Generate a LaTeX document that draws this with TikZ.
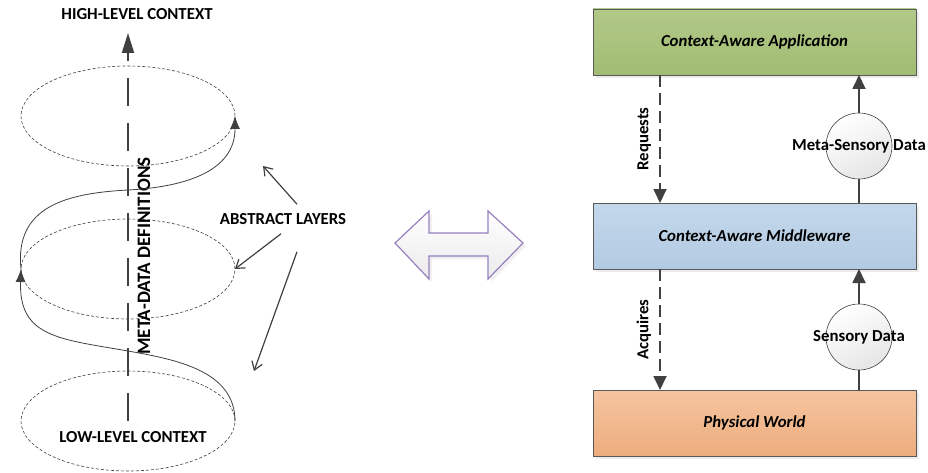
\documentclass[tikz,border=0pt]{standalone}
\usepackage{fontspec}
\setmainfont{Carlito}
\usetikzlibrary{arrows.meta,shapes.geometric,shadows,positioning}

\definecolor{linegray}{RGB}{64,64,64}
\definecolor{appgreenA}{RGB}{178,201,136}
\definecolor{appgreenB}{RGB}{161,188,115}
\definecolor{mwblueA}{RGB}{196,216,235}
\definecolor{mwblueB}{RGB}{178,202,226}
\definecolor{physA}{RGB}{245,196,160}
\definecolor{physB}{RGB}{237,173,125}
\definecolor{arrowpurple}{RGB}{150,128,190}

\tikzset{
  txt/.style={font=\fontsize{16.8}{20}\selectfont\bfseries, text=black},
  layer/.style={ellipse, draw=linegray, line width=0.6pt, dash pattern=on 3pt off 2pt,
    minimum width=214pt, minimum height=100pt, inner sep=0pt, outer sep=0pt},
  spiral/.style={draw=linegray, line width=0.8pt, -{Latex[length=13pt,width=10pt]}},
  pointer/.style={draw=linegray, line width=1.2pt, -{Straight Barb[length=8pt,width=11pt]}},
  layerbox/.style={draw=black!65, line width=0.9pt, minimum width=323pt, minimum height=66pt,
    inner sep=0pt, outer sep=0pt, font=\fontsize{16.8}{20}\selectfont\bfseries\itshape,
    drop shadow={opacity=0.15, shadow xshift=3pt, shadow yshift=-3pt}},
  datacircle/.style={circle, draw=linegray, line width=0.6pt, minimum size=66pt, inner sep=0pt,
    outer sep=0pt, top color=white, bottom color=black!10, shading angle=30},
  flow/.style={draw=linegray, line width=1.8pt, -{Triangle[length=14pt,width=13pt]}},
  flowdash/.style={flow, dash pattern=on 12pt off 6pt}
}

\begin{document}
\begin{tikzpicture}[x=1pt, y=1pt]
  \useasboundingbox (0,0) rectangle (928,-473);

  % three abstract layers
  \node[layer] (top) at (128,-116) {};
  \node[layer] (mid) at (128,-269) {};
  \node[layer] (bot) at (128,-421) {};

  \node[txt] (hi) at (137,-14) {HIGH-LEVEL CONTEXT};
  \node[txt] (lo) at (133,-437) {LOW-LEVEL CONTEXT};

  % dashed axis going up
  \coordinate (axtop) at (128,-33);
  \draw[draw=linegray, line width=2pt, dash pattern=on 28pt off 17pt,
        -{Triangle[length=20pt,width=12pt]}] (bot.center) -- (axtop);
  \node[txt, font=\fontsize{19}{22}\selectfont\bfseries, rotate=90] (meta) at (144,-256) {META-DATA DEFINITIONS};

  % spiral through the layers
  \draw[spiral] (bot.east) to[out=90, in=-10] (128,-351)
    to[out=170, in=-92, looseness=1.3] (mid.west);
  \draw[spiral] (mid.west) to[out=96, in=183, looseness=1.2] (128,-190)
    to[out=3, in=-90, looseness=1.1] (top.east);

  \node[txt, inner sep=0pt] (al) at (283,-219) {ABSTRACT LAYERS};
  \draw[pointer] ([shift={(14,9)}]al.north) -- ([xshift=135pt]top.south);
  \draw[pointer] ([shift={(-2,-9)}]al.south) -- (mid.east);
  \draw[pointer] ([shift={(14,-27)}]al.south) -- ([xshift=126pt]bot.north);

  % two-way arrow in the middle
  \path[draw=arrowpurple, line width=1.2pt, top color=white, bottom color=black!8,
        drop shadow={opacity=0.12, shadow xshift=3pt, shadow yshift=-3pt}]
    (395,-243) -- (429,-211) -- (429,-233) -- (488,-233) -- (488,-211) -- (523,-243)
    -- (488,-279) -- (488,-256) -- (429,-256) -- (429,-279) -- cycle;

  % middleware stack
  \node[layerbox, top color=appgreenA, bottom color=appgreenB] (app) at (754.5,-42) {Context-Aware Application};
  \node[layerbox, top color=mwblueA, bottom color=mwblueB] (mw) at (754.5,-236) {Context-Aware Middleware};
  \node[layerbox, top color=physA, bottom color=physB] (phys) at (754.5,-423) {Physical World};

  \coordinate (down) at (660,0);
  \coordinate (up) at (859,0);

  \draw[flowdash] (app.south -| down) -- node[txt, midway, rotate=90, anchor=south, inner sep=8pt] {Requests} (mw.north -| down);
  \draw[flowdash] (mw.south -| down) -- node[txt, midway, rotate=90, anchor=south, inner sep=8pt] {Acquires} (phys.north -| down);

  \node[datacircle, label={[txt]center:Meta-Sensory Data}] (msd) at (859,-146) {};
  \node[datacircle, label={[txt]center:Sensory Data}] (sd) at (859,-337) {};

  \draw[flow, -] (mw.north -| up) -- (msd.south);
  \draw[flow] (msd.north) -- (app.south -| up);
  \draw[flow, -] (phys.north -| up) -- (sd.south);
  \draw[flow] (sd.north) -- (mw.south -| up);
\end{tikzpicture}
\end{document}
